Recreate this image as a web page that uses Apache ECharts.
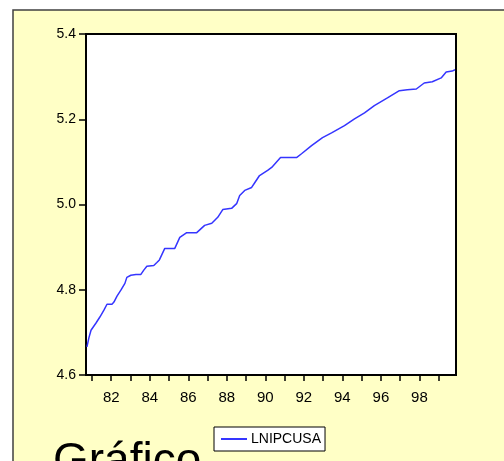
<!DOCTYPE html>
<html>
<head>
<meta charset="utf-8">
<script src="https://cdn.jsdelivr.net/npm/echarts@6/dist/echarts.min.js"></script>
<style>html,body{margin:0;padding:0;background:#fff;}#c{width:504px;height:461px;}</style>
</head>
<body>
<div id="c"></div>
<script>
var years = [1980.74,1980.84,1980.95,1981.21,1981.41,1981.62,1981.78,1982.04,1982.14,1982.30,1982.50,1982.71,1982.81,1983.02,1983.28,1983.54,1983.69,1983.85,1984.21,1984.37,1984.50,1984.78,1985.30,1985.56,1985.92,1986.44,1986.85,1987.22,1987.53,1987.79,1988.25,1988.51,1988.67,1988.93,1989.29,1989.45,1989.70,1990.12,1990.33,1990.79,1991.62,1991.88,1992.40,1992.97,1993.44,1994.11,1994.63,1995.15,1995.66,1996.34,1996.96,1997.37,1997.84,1998.25,1998.67,1999.13,1999.39,1999.70,1999.85];
var lnipcusa = [4.666,4.687,4.705,4.722,4.736,4.752,4.766,4.766,4.771,4.785,4.799,4.815,4.829,4.834,4.836,4.836,4.846,4.855,4.857,4.864,4.870,4.897,4.897,4.923,4.934,4.934,4.951,4.956,4.970,4.988,4.991,5.002,5.021,5.033,5.040,5.051,5.068,5.080,5.087,5.110,5.110,5.119,5.138,5.157,5.168,5.185,5.201,5.215,5.232,5.250,5.267,5.269,5.271,5.285,5.288,5.297,5.311,5.313,5.316];
var xTicks = [1981,1982,1983,1984,1985,1986,1987,1988,1989,1990,1991,1992,1993,1994,1995,1996,1997,1998,1999];
var xLabels = [1982,1984,1986,1988,1990,1992,1994,1996,1998];
var yTicks = [4.6,4.8,5.0,5.2,5.4];
var seriesName = 'LNIPCUSA';
var titleText = 'Gráfico';

var data = years.map(function(y,i){return [y, lnipcusa[i]];});
var chart = echarts.init(document.getElementById('c'), null, {renderer:'canvas'});
chart.setOption({
  animation:false,
  backgroundColor:'#ffffff',
  graphic:[
    {type:'rect', shape:{x:13,y:10,width:520,height:480}, style:{fill:'#FFFFC6', stroke:'#404040', lineWidth:1.5}, z:-10}
  ],
  title:{text:titleText, left:48, top:434, textStyle:{fontFamily:'Liberation Sans, Arial', fontSize:46, fontWeight:'normal', color:'#000'}},
  legend:{
    data:[seriesName], left:214, top:427,
    backgroundColor:'#ffffff', borderColor:'#000', borderWidth:1,
    padding:[5,4,5,7], itemWidth:26, itemHeight:2, itemGap:5,
    icon:'rect',
    textStyle:{fontFamily:'Liberation Sans, Arial', fontSize:14, color:'#000', padding:[0,0,0,-1]}
  },
  grid:{left:86, top:34, right:48, bottom:86, show:true, backgroundColor:'#ffffff', borderColor:'#000', borderWidth:2},
  xAxis:{
    type:'value', min:1980.69, max:1999.9,
    axisLine:{show:true, lineStyle:{color:'#000', width:2}},
    axisTick:{show:true, length:6, lineStyle:{color:'#000', width:1.5}, customValues:xTicks},
    axisLabel:{customValues:xLabels, formatter:function(v){return String(Math.round(v)%100).padStart(2,'0');}, fontFamily:'Liberation Sans, Arial', fontSize:15, color:'#000', margin:15},
    splitLine:{show:false}
  },
  yAxis:{
    type:'value', min:4.6, max:5.4, interval:0.2,
    axisLine:{show:true, lineStyle:{color:'#000', width:2}},
    axisTick:{show:true, length:7, lineStyle:{color:'#000', width:1.5}},
    axisLabel:{formatter:function(v){return v.toFixed(1);}, fontFamily:'Liberation Sans, Arial', fontSize:14, color:'#000', margin:10},
    splitLine:{show:false}
  },
  series:[{
    name:seriesName, type:'line', data:data, showSymbol:false, symbol:'none',
    lineStyle:{color:'#3535FF', width:1.5}, itemStyle:{color:'#3535FF'}
  }]
});
</script>
</body>
</html>
